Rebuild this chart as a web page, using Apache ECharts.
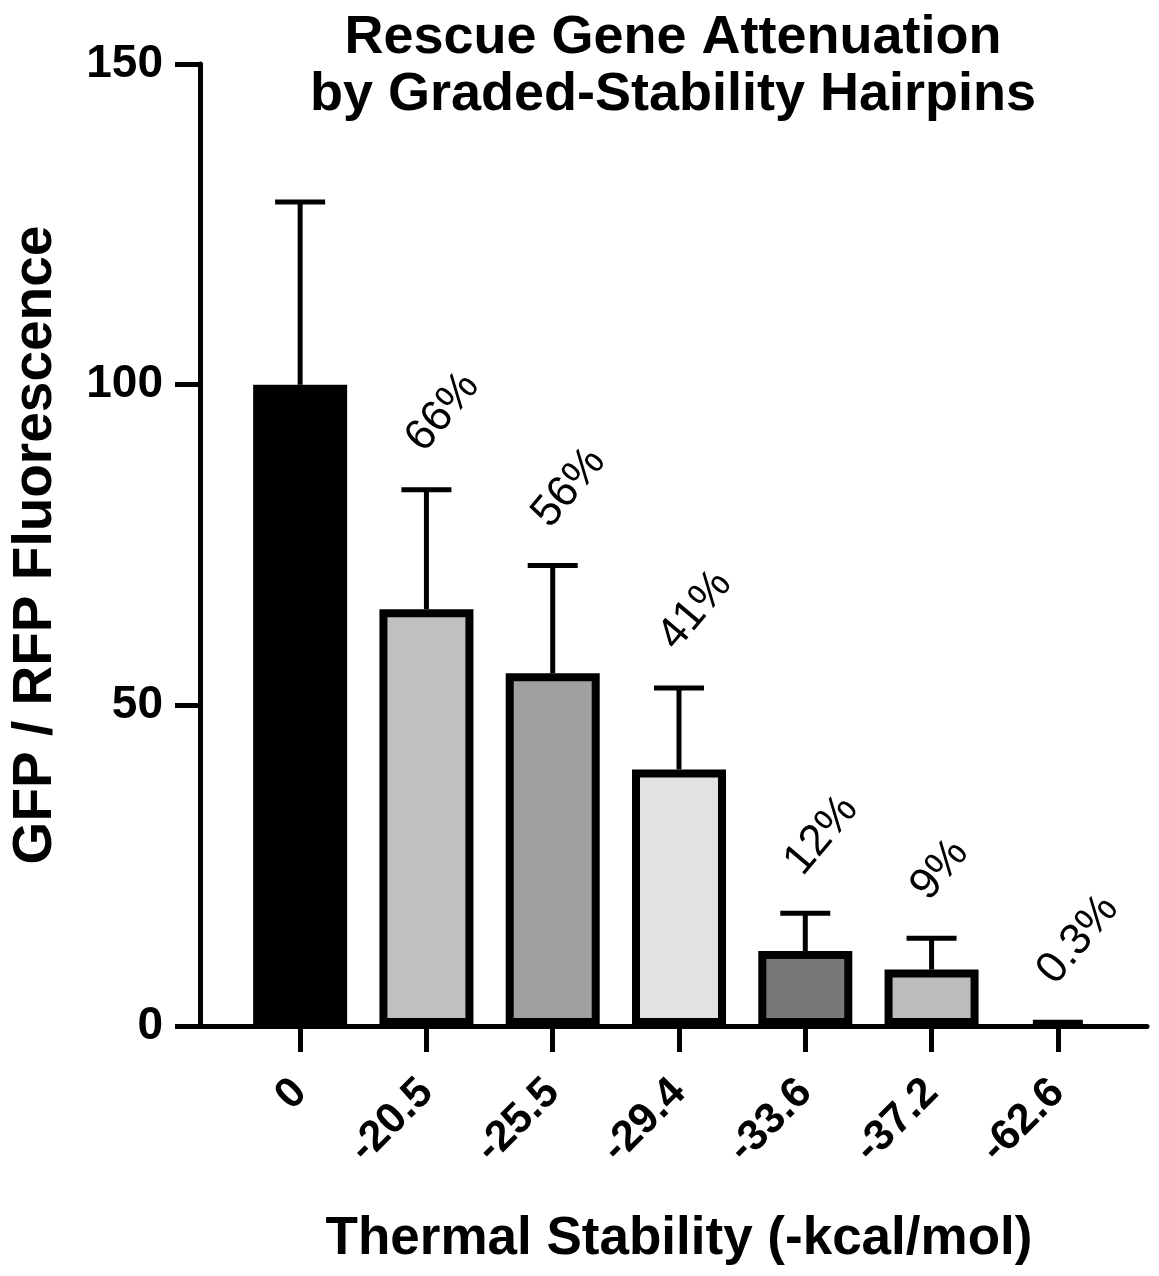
<!DOCTYPE html>
<html>
<head>
<meta charset="utf-8">
<script src="https://cdn.jsdelivr.net/npm/echarts@6/dist/echarts.min.js"></script>
<style>
html,body{margin:0;padding:0;background:#fff;}
#chart{width:1159px;height:1276px;}
</style>
</head>
<body>
<div id="chart"></div>
<script>
// ---- data ----
var categories = ['0', '-20.5', '-25.5', '-29.4', '-33.6', '-37.2', '-62.6'];
var means = [100, 65, 55, 40, 11.7, 8.8, 0.3];
var sds = [28.5, 18.6, 16.8, 12.7, 5.9, 4.9, 0.3];
var percentLabels = ['', '66%', '56%', '41%', '12%', '9%', '0.3%'];
var yTicks = [0, 50, 100, 150];
var fills = ['#000000', '#c0c0c0', '#a0a0a0', '#e2e2e2', '#787878', '#bcbcbc', '#000000'];

var FONT = '"Liberation Sans", Arial, Helvetica, sans-serif';

var chart = echarts.init(document.getElementById('chart'), null, {renderer: 'canvas'});

var barData = means.map(function (v, i) {
  var item = {value: v, itemStyle: {color: fills[i]}};
  if (i === means.length - 1) item.itemStyle.borderWidth = 0;
  return item;
});
var errData = means.map(function (v, i) { return [i, v, v + sds[i]]; });

var option = {
  animation: false,
  backgroundColor: '#ffffff',
  title: {
    text: 'Rescue Gene Attenuation\nby Graded-Stability Hairpins',
    left: 668,
    top: 5,
    textAlign: 'center',
    textStyle: {fontFamily: FONT, fontWeight: 'bold', fontSize: 54, lineHeight: 57, color: '#000'}
  },
  grid: [
    {left: 237, right: 38, top: 64, bottom: 250, containLabel: false, outerBoundsMode: 'none'},
    {left: 198, right: 12, top: 64, bottom: 250, containLabel: false, outerBoundsMode: 'none'}
  ],
  xAxis: [
    {
      type: 'category', gridIndex: 0, data: categories,
      axisLine: {show: false},
      axisTick: {show: true, alignWithLabel: true, length: 26, lineStyle: {color: '#000', width: 5}},
      axisLabel: {rotate: 45, margin: 60, fontFamily: FONT, fontWeight: 'bold', fontSize: 43, color: '#000', interval: 0},
      name: 'Thermal Stability (-kcal/mol)',
      nameLocation: 'middle', nameGap: 187,
      nameTextStyle: {fontFamily: FONT, fontWeight: 'bold', fontSize: 53, color: '#000'}
    },
    {
      type: 'value', gridIndex: 1, min: 0, max: 1,
      axisLine: {show: true, lineStyle: {color: '#000', width: 5}},
      axisTick: {show: false}, axisLabel: {show: false}, splitLine: {show: false}
    }
  ],
  yAxis: [
    {
      type: 'value', gridIndex: 0, min: 0, max: 150, interval: 50, offset: 37,
      axisLine: {show: true, lineStyle: {color: '#000', width: 5}},
      axisTick: {show: true, length: 25, lineStyle: {color: '#000', width: 5}},
      axisLabel: {margin: 37, fontFamily: FONT, fontWeight: 'bold', fontSize: 46, color: '#000',
        customValues: yTicks},
      splitLine: {show: false},
      name: 'GFP / RFP Fluorescence',
      nameLocation: 'middle', nameGap: 137, nameRotate: 90,
      nameTextStyle: {fontFamily: FONT, fontWeight: 'bold', fontSize: 55, color: '#000'}
    },
    {
      type: 'value', gridIndex: 1, min: 0, max: 1, show: false
    }
  ],
  series: [
    {
      type: 'bar', xAxisIndex: 0, yAxisIndex: 0,
      data: barData, barWidth: 94,
      itemStyle: {borderColor: '#000', borderWidth: 8},
      z: 2
    },
    {
      type: 'custom', xAxisIndex: 0, yAxisIndex: 0,
      data: errData, z: 3,
      renderItem: function (params, api) {
        var idx = api.value(0);
        var base = api.coord([idx, api.value(1)]);
        var top = api.coord([idx, api.value(2)]);
        var half = 25;
        var children = [
          {type: 'line', shape: {x1: top[0], y1: base[1], x2: top[0], y2: top[1]},
            style: {stroke: '#000', lineWidth: 5}},
          {type: 'line', shape: {x1: top[0] - half, y1: top[1], x2: top[0] + half, y2: top[1]},
            style: {stroke: '#000', lineWidth: 5}}
        ];
        var txt = percentLabels[params.dataIndex];
        if (txt) {
          children.push({
            type: 'text', x: top[0] - 12, y: top[1] - 44, rotation: 50 * Math.PI / 180,
            style: {text: txt, font: 'normal 44px ' + FONT, fill: '#000', align: 'left', verticalAlign: 'middle'}
          });
        }
        return {type: 'group', children: children};
      }
    }
  ]
};
chart.setOption(option);
</script>
</body>
</html>
